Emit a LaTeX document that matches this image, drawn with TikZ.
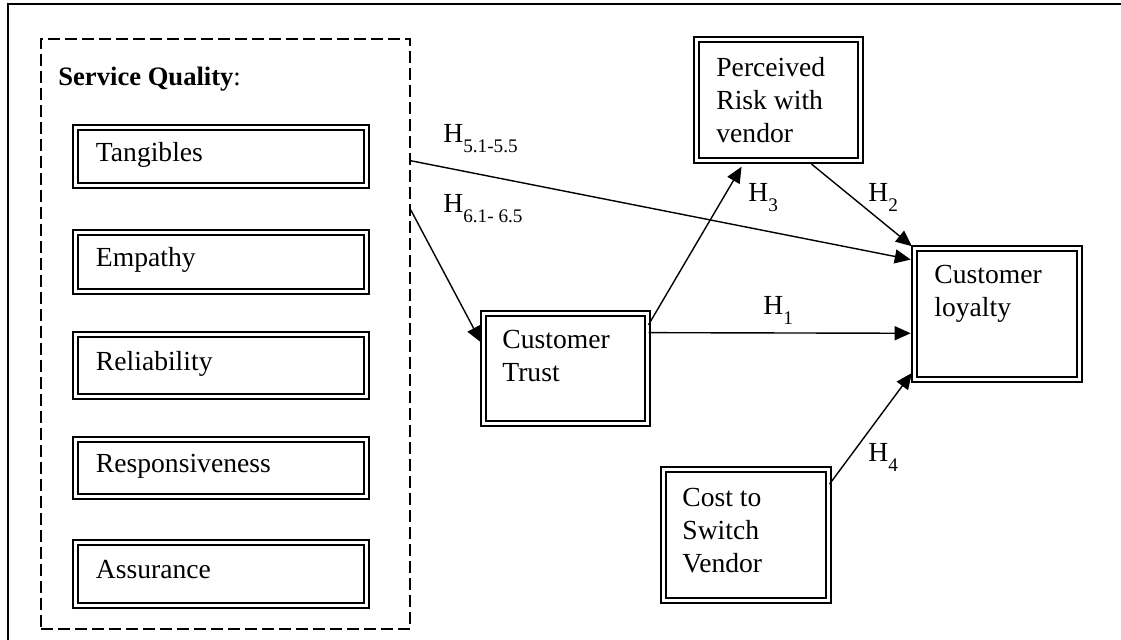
\documentclass[tikz,border=0pt]{standalone}
\usepackage{fontspec}
\setmainfont{Liberation Serif}
\usetikzlibrary{arrows.meta,calc}

% hypothesis label: H with a lowered small index
\newcommand{\hyp}[1]{H\raisebox{-5pt}{\fontsize{9.6pt}{10pt}\selectfont #1}}

\tikzset{
  dbox/.style={draw, line width=1pt, double=white, double distance=1.1pt, inner sep=0pt},
  itembox/.style={dbox, minimum width=145.5pt, text width=125pt, inner xsep=10.25pt,
                  align=left, text height=0.7em, text depth=0.22em},
  txt/.style={inner sep=0pt, align=left},
  conn/.style={line width=0.7pt, -{Triangle[length=8pt,width=7pt]}},
  hlab/.style={inner sep=0pt, anchor=base west},
}

\begin{document}
\begin{tikzpicture}[x=0.5pt, y=-0.5pt, font=\fontsize{13.8pt}{16.5pt}\selectfont]
\useasboundingbox (0,0) rectangle (1121,640);

% page frame
\draw[line width=0.9pt] (8,640) -- (8,4.3) -- (1121,4.3);

% service quality group
\node[draw, line width=0.7pt, dash pattern=on 6pt off 2.5pt, minimum width=184.5pt,
      minimum height=295pt, inner sep=0pt] (sq) at (225.5,334) {};
\node[txt, anchor=base west, font=\fontsize{13.3pt}{16pt}\selectfont] (sqtitle) at (58,86)
     {\textbf{Service Quality}:};

\node[itembox, minimum height=29pt]   (tang) at (221,156.5) {Tangibles};
\node[itembox, minimum height=29.5pt] (emp)  at (221,262)   {Empathy};
\node[itembox, minimum height=31pt]   (rel)  at (221,365.5) {Reliability};
\node[itembox, minimum height=28.5pt] (resp) at (221,468)   {Responsiveness};
\node[itembox, minimum height=31.5pt] (ass)  at (221,574)   {Assurance};

% constructs (text anchored at the baseline of its last line)
\node[dbox, minimum width=82pt,   minimum height=60.5pt] (risk)  at (778.5,100) {};
\node[txt, anchor=base west] (risktxt) at (716,143) {Perceived\\Risk with\\vendor};

\node[dbox, minimum width=82.5pt, minimum height=65.5pt] (loyal) at (997,314) {};
\node[txt, anchor=base west] (loyaltxt) at (934,317) {Customer\\loyalty};

\node[dbox, minimum width=82pt,   minimum height=55pt]   (trust) at (565.5,368.5) {};
\node[txt, anchor=base west] (trusttxt) at (502,382) {Customer\\Trust};

\node[dbox, minimum width=82.5pt, minimum height=65.5pt] (cost)  at (746,535) {};
\node[txt, anchor=base west] (costtxt) at (682,573) {Cost to\\Switch\\Vendor};

% paths
\draw[conn, shorten >=1.4pt] ($(sq.north east)!0.207!(sq.south east)$)
     -- ($(loyal.north west)!0.095!(loyal.south west)$);
\draw[conn, shorten >=1.4pt] ($(sq.north east)!0.29!(sq.south east)$)
     -- ($(trust.north west)!0.29!(trust.south west)$);
\draw[conn, shorten >=3pt] ($(trust.north east)!0.11!(trust.south east)$)
     -- ($(risk.south west)!0.296!(risk.south east)$);
\draw[conn, shorten <=2pt, shorten >=1pt] ($(risk.south west)!0.68!(risk.south east)$)
     -- (loyal.north west);
\draw[conn, shorten >=1.4pt] ($(trust.north east)!0.18!(trust.south east)$)
     -- ($(loyal.north west)!0.645!(loyal.south west)$);
\draw[conn, shorten >=1.4pt] ($(cost.north east)!0.118!(cost.south east)$)
     -- ($(loyal.north west)!0.927!(loyal.south west)$);

% hypothesis labels
\node[hlab] (h5) at (443,143) {\hyp{5.1-5.5}};
\node[hlab] (h6) at (443,213) {\hyp{6.1- 6.5}};
\node[hlab] (h3) at (748,202) {\hyp{3}};
\node[hlab] (h2) at (868,202) {\hyp{2}};
\node[hlab] (h1) at (763,315) {\hyp{1}};
\node[hlab] (h4) at (868,462) {\hyp{4}};
\end{tikzpicture}
\end{document}
